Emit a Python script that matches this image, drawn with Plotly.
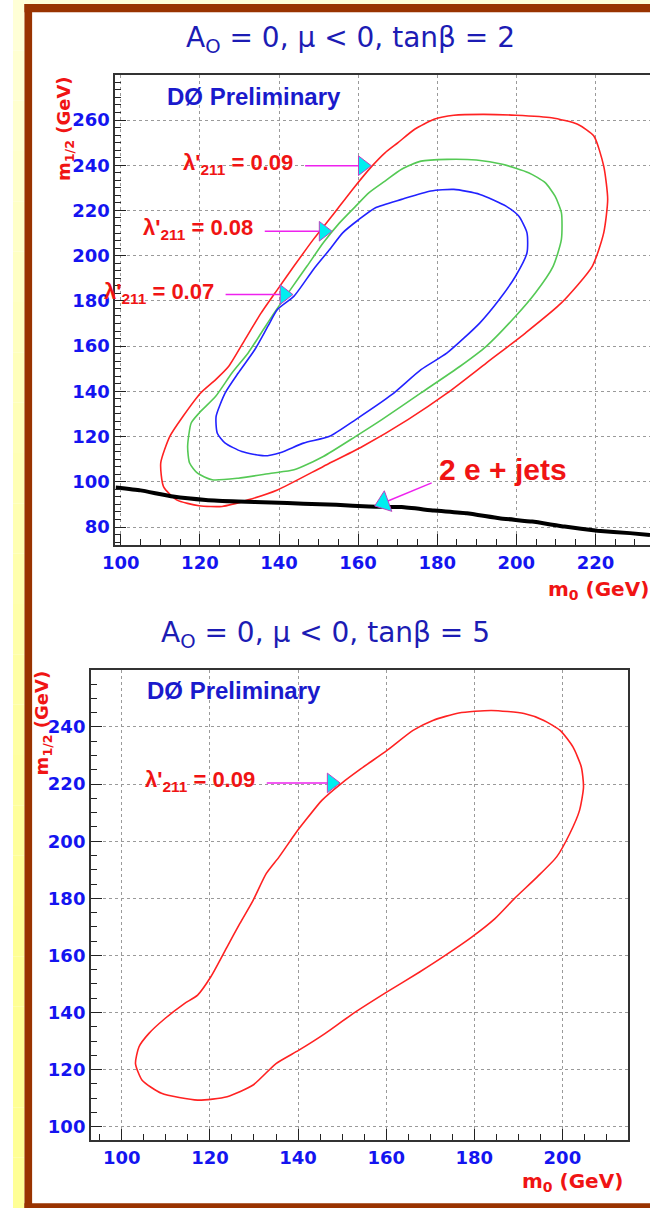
import math
import plotly.graph_objects as go

W, H = 650, 1208

# ---------------- exclusion contours, A0 = 0, mu < 0, tan(beta) = 2 ----------------
m0_tb2_l09 = [110.1, 110.8, 114.1, 119.8, 125.6, 132.2, 139.6, 151.2, 161.1, 172.6, 182.5,
              192.4, 202.3, 211.4, 219.2, 222.1, 223.1, 222.1, 219.6, 215.5, 208.9, 199.8,
              191.6, 184.2, 179.2, 174.3, 170.1, 166.8, 163.5, 158.6, 153.7, 148.7, 143.8,
              139.6, 135.5, 131.4, 127.3, 124.0, 120.2, 115.7, 112.4]
m12_tb2_l09 = [108.3, 97.9, 92.0, 89.4, 89.1, 92.0, 96.4, 106.8, 115.6, 127.5, 139.2,
               152.5, 165.8, 179.1, 195.3, 210.1, 224.9, 239.6, 252.9, 258.1, 261.0, 262.1,
               262.5, 262.1, 260.3, 255.9, 250.0, 245.5, 239.6, 229.3, 218.2, 207.2, 195.4,
               185.0, 174.7, 162.9, 151.1, 145.2, 139.3, 128.9, 120.1]

m0_tb2_l08 = [116.9, 117.4, 119.4, 123.1, 129.7, 138.0, 143.8, 151.2, 159.4, 166.0, 175.9,
              185.8, 192.4, 199.8, 204.8, 209.3, 211.4, 211.4, 209.8, 207.3, 203.1, 196.5,
              189.9, 182.5, 175.9, 171.0, 166.8, 162.7, 159.4, 155.3, 151.2, 147.1, 142.9,
              138.8, 135.5, 132.2, 128.1, 124.0, 119.8, 117.8]
m12_tb2_l08 = [115.6, 108.3, 103.8, 100.9, 101.6, 103.8, 105.3, 111.2, 120.1, 127.5, 139.3,
               151.1, 159.9, 173.2, 183.5, 195.3, 207.2, 219.0, 226.3, 232.3, 236.7, 240.4,
               242.3, 242.6, 241.8, 238.2, 233.0, 227.8, 221.9, 214.5, 205.7, 195.4, 185.0,
               174.7, 165.8, 157.0, 148.1, 137.8, 130.4, 126.0]

m0_tb2_l07 = [124.1, 124.4, 126.4, 130.6, 136.3, 140.5, 146.2, 152.8, 159.4, 168.5, 175.9,
              182.5, 190.8, 195.7, 199.8, 202.7, 202.7, 200.6, 197.4, 190.8, 184.2, 178.4,
              171.0, 164.4, 160.2, 156.1, 152.8, 148.7, 143.8, 139.6, 137.2, 133.9, 129.7,
              126.4]
m12_tb2_l07 = [128.9, 121.5, 117.1, 113.4, 111.5, 113.0, 117.1, 120.1, 127.5, 138.5, 149.6,
               157.0, 170.3, 180.6, 190.9, 201.3, 210.1, 217.5, 221.9, 227.1, 229.3, 228.6,
               224.9, 221.2, 216.0, 210.1, 202.7, 193.9, 182.1, 176.2, 168.8, 158.5, 148.1,
               139.3]

# 2 e + jets limit
m0_2ej = [98.7, 105.0, 113.2, 121.5, 129.7, 138.0, 146.2, 154.5, 162.7, 171.0, 179.2,
          187.5, 195.7, 204.0, 212.2, 220.5, 228.7, 233.8]
m12_2ej = [97.5, 96.2, 93.5, 92.0, 91.3, 90.9, 90.3, 89.8, 89.1, 88.8, 87.3,
           86.1, 83.9, 82.4, 80.2, 78.4, 77.3, 76.5]

# ---------------- exclusion contour, A0 = 0, mu < 0, tan(beta) = 5 ----------------
m0_tb5_l09 = [103.1, 104.6, 109.0, 117.2, 123.9, 129.8, 135.0, 140.2, 146.1, 152.0, 160.2,
              167.6, 173.5, 179.5, 184.7, 189.1, 194.3, 198.7, 201.7, 203.9, 204.8, 204.3,
              202.4, 199.5, 195.8, 191.3, 183.9, 176.5, 170.6, 166.1, 160.2, 154.3, 149.8,
              145.4, 141.7, 139.4, 135.7, 132.8, 129.8, 126.8, 123.9, 120.2, 117.2, 114.2,
              109.8, 106.1, 103.9]
m12_tb5_l09 = [122.1, 116.3, 111.7, 109.3, 110.5, 114.6, 122.1, 126.8, 132.6, 139.1, 147.2,
               154.2, 160.1, 166.5, 172.9, 179.9, 187.5, 194.5, 202.7, 210.8, 219.0, 226.0,
               233.0, 238.8, 242.3, 244.7, 245.8, 244.9, 242.3, 238.8, 231.8, 225.4, 220.2,
               214.3, 207.3, 202.7, 194.5, 188.7, 179.3, 171.2, 163.0, 152.5, 146.1, 143.1,
               137.9, 132.6, 128.0]

# contour labels: lambda' value, arrow tail m0, arrow tip (m0, m1/2)
labels_tb2 = ["0.09", "0.08", "0.07"]
tail_m0_tb2 = [146.6, 136.4, 126.5]
tip_m0_tb2 = [163.6, 153.7, 143.8]
tip_m12_tb2 = [239.8, 210.8, 182.8]

labels_tb5 = ["0.09"]
tail_m0_tb5 = [132.9]
tip_m0_tb5 = [149.8]
tip_m12_tb5 = [220.4]

ej_tail = (178.6, 99.5)
ej_tip = (163.9, 89.1)

# axis ranges
x1_range = [98.64, 233.8]
y1_range = [72.05, 279.9]
x2_range = [93.0, 215.0]
y2_range = [95.34, 259.96]

# ---------------- page geometry (pixels) ----------------
def fx(p):
    return p / W

def fy(p):
    return 1 - p / H

dom_x1 = [fx(104.5), 1.0]
dom_y1 = [fy(545), fy(75)]
dom_x2 = [fx(79.6), fx(628)]
dom_y2 = [fy(1140), fy(670)]

ARIAL = "Liberation Sans, Arial, Helvetica, sans-serif"
DEJAVU = "DejaVu Sans, Verdana, sans-serif"
RED = "#f01414"
BLUE_TICK = "#1414f0"
BLUE_TITLE = "#1c1cb4"
MAGENTA = "#ee22ee"
CYAN = "#00eef0"

fig = go.Figure()


def closed(a):
    return list(a) + [a[0]]


def contour(xs, ys, color, width, xa, ya):
    fig.add_trace(go.Scatter(x=closed(xs), y=closed(ys), mode="lines",
                             line=dict(color=color, width=width, shape="spline", smoothing=0.6),
                             xaxis=xa, yaxis=ya, hoverinfo="skip", showlegend=False))


contour(m0_tb2_l09, m12_tb2_l09, "#ff2222", 1.6, "x", "y")
contour(m0_tb2_l08, m12_tb2_l08, "#55c955", 1.6, "x", "y")
contour(m0_tb2_l07, m12_tb2_l07, "#2222ff", 1.6, "x", "y")
fig.add_trace(go.Scatter(x=m0_2ej, y=m12_2ej, mode="lines",
                         line=dict(color="black", width=4, shape="spline", smoothing=0.4),
                         hoverinfo="skip", showlegend=False))
contour(m0_tb5_l09, m12_tb5_l09, "#ff2222", 1.6, "x2", "y2")

# pixels per GeV in each panel (used to set arrow heads back from their tips)
sx1 = (dom_x1[1] - dom_x1[0]) * W / (x1_range[1] - x1_range[0])
sy1 = (dom_y1[1] - dom_y1[0]) * H / (y1_range[1] - y1_range[0])
sx2 = (dom_x2[1] - dom_x2[0]) * W / (x2_range[1] - x2_range[0])

TRI = 17
tri_r = TRI / 2 * 2 / 3 ** 0.5  # distance from marker centre to its tip


def label_arrow(tail, tipx, tipy, text, sx, xa, ya):
    cx = tipx - tri_r / sx
    fig.add_trace(go.Scatter(x=[tail, cx], y=[tipy, tipy], mode="lines",
                             line=dict(color=MAGENTA, width=1.5), xaxis=xa, yaxis=ya,
                             hoverinfo="skip", showlegend=False))
    fig.add_trace(go.Scatter(x=[cx], y=[tipy], mode="markers",
                             marker=dict(symbol="triangle-right", size=TRI, color=CYAN,
                                         line=dict(color="#c040c0", width=1)),
                             xaxis=xa, yaxis=ya, hoverinfo="skip", showlegend=False))
    fig.add_annotation(x=tail, y=tipy, xref=xa, yref=ya,
                       text="λ'<sub>211</sub> = " + text, showarrow=False,
                       xanchor="right", yanchor="middle", xshift=-10, yshift=2,
                       font=dict(family=ARIAL, size=22, color=RED, weight="bold"))


for t, a, b, c in zip(labels_tb2, tail_m0_tb2, tip_m0_tb2, tip_m12_tb2):
    label_arrow(a, b, c, t, sx1, "x", "y")
for t, a, b, c in zip(labels_tb5, tail_m0_tb5, tip_m0_tb5, tip_m12_tb5):
    label_arrow(a, b, c, t, sx2, "x2", "y2")

# 2 e + jets pointer with a tilted head
ang = 20
TRI2 = 19
r2 = TRI2 / 2 * 2 / 3 ** 0.5
cx = ej_tip[0] + r2 * math.cos(math.radians(ang)) / sx1
cy = ej_tip[1] + r2 * math.sin(math.radians(ang)) / sy1
fig.add_trace(go.Scatter(x=[ej_tail[0], cx], y=[ej_tail[1], cy], mode="lines",
                         line=dict(color=MAGENTA, width=1.5), hoverinfo="skip", showlegend=False))
fig.add_trace(go.Scatter(x=[cx], y=[cy], mode="markers",
                         marker=dict(symbol="triangle-left", size=TRI2, color=CYAN, angle=-ang,
                                     line=dict(color="#c040c0", width=1)),
                         hoverinfo="skip", showlegend=False))
fig.add_annotation(x=ej_tail[0], y=ej_tail[1], xref="x", yref="y", text="2 e + jets",
                   showarrow=False, xanchor="left", yanchor="middle", xshift=5, yshift=13,
                   font=dict(family=ARIAL, size=30, color=RED, weight="bold"))


def axis(rng, dom, anchor, minor_dtick, mirror):
    return dict(range=rng, domain=dom, anchor=anchor, dtick=20, tick0=0,
                ticks="inside", ticklen=11, tickwidth=1, tickcolor="#222",
                showline=True, linecolor="#333", linewidth=2, mirror=mirror,
                showgrid=True, gridcolor="#9a9a9a", griddash="dot", gridwidth=1,
                zeroline=False,
                minor=dict(dtick=minor_dtick, tick0=0, ticks="inside", ticklen=6,
                           tickwidth=1, tickcolor="#222", showgrid=False),
                tickfont=dict(family=DEJAVU, size=18, color=BLUE_TICK, weight="bold"),
                fixedrange=True)


fig.update_layout(
    width=W, height=H, margin=dict(l=0, r=0, t=0, b=0),
    paper_bgcolor="white", plot_bgcolor="white", showlegend=False,
    xaxis=axis(x1_range, dom_x1, "y", 5, True),
    yaxis=axis(y1_range, dom_y1, "x", 20 / 6, False),
    xaxis2=axis(x2_range, dom_x2, "y2", 5, True),
    yaxis2=axis(y2_range, dom_y2, "x2", 5, True),
)

# panel titles
for txt, x, y in [("A<sub>O</sub> = 0, μ &lt; 0, tanβ = 2", 344, 40),
                  ("A<sub>O</sub> = 0, μ &lt; 0, tanβ = 5", 319, 634)]:
    fig.add_annotation(x=fx(x), y=fy(y), xref="paper", yref="paper", text=txt,
                       showarrow=False, xanchor="center", yanchor="middle",
                       font=dict(family=DEJAVU, size=28, color=BLUE_TITLE))

for x, y in [(246, 97), (225, 691)]:
    fig.add_annotation(x=fx(x), y=fy(y), xref="paper", yref="paper", text="DØ Preliminary",
                       showarrow=False, xanchor="center", yanchor="middle",
                       font=dict(family=ARIAL, size=24, color="#1a1acc", weight="bold"))

# axis titles
for x, y in [(651, 590), (624, 1182)]:
    fig.add_annotation(x=fx(x), y=fy(y), xref="paper", yref="paper",
                       text="m<sub>0</sub> (GeV)", showarrow=False,
                       xanchor="right", yanchor="middle",
                       font=dict(family=DEJAVU, size=20, color=RED, weight="bold"))
for x, y in [(53, 128), (31, 723)]:
    fig.add_annotation(x=fx(x), y=fy(y), xref="paper", yref="paper",
                       text="m<sub>1/2</sub> (GeV)", showarrow=False, textangle=-90,
                       xanchor="center", yanchor="middle",
                       font=dict(family=DEJAVU, size=18, color=RED, weight="bold"))

# slide frame: yellow margin strip and brown border
shapes = []
n_band = 24
for i in range(n_band):
    y0 = H * i / n_band
    y1 = H * (i + 1) / n_band
    t = min(1.0, (i + 0.5) / n_band / 0.75)
    g = round(0xd8 + (0x96 - 0xd8) * t)
    col = "#ffff%02x" % g
    shapes.append(dict(type="rect", xref="paper", yref="paper", x0=0, x1=fx(11.7),
                       y0=fy(y1), y1=fy(y0), fillcolor=col, line=dict(width=0), layer="below"))
shapes.append(dict(type="rect", xref="paper", yref="paper", x0=fx(11.7), x1=1,
                   y0=fy(4), y1=1, fillcolor="#fffed8", line=dict(width=0), layer="below"))
brown = "#993300"
shapes.append(dict(type="rect", xref="paper", yref="paper", x0=fx(11.7), x1=fx(19.5),
                   y0=0, y1=fy(4), fillcolor=brown, line=dict(width=0), layer="below"))
shapes.append(dict(type="rect", xref="paper", yref="paper", x0=fx(11.7), x1=1,
                   y0=fy(12.3), y1=fy(4), fillcolor=brown, line=dict(width=0), layer="below"))
shapes.append(dict(type="rect", xref="paper", yref="paper", x0=fx(11.7), x1=1,
                   y0=0, y1=fy(1203.3), fillcolor=brown, line=dict(width=0), layer="below"))
fig.update_layout(shapes=shapes)

fig.write_html("out.html")
